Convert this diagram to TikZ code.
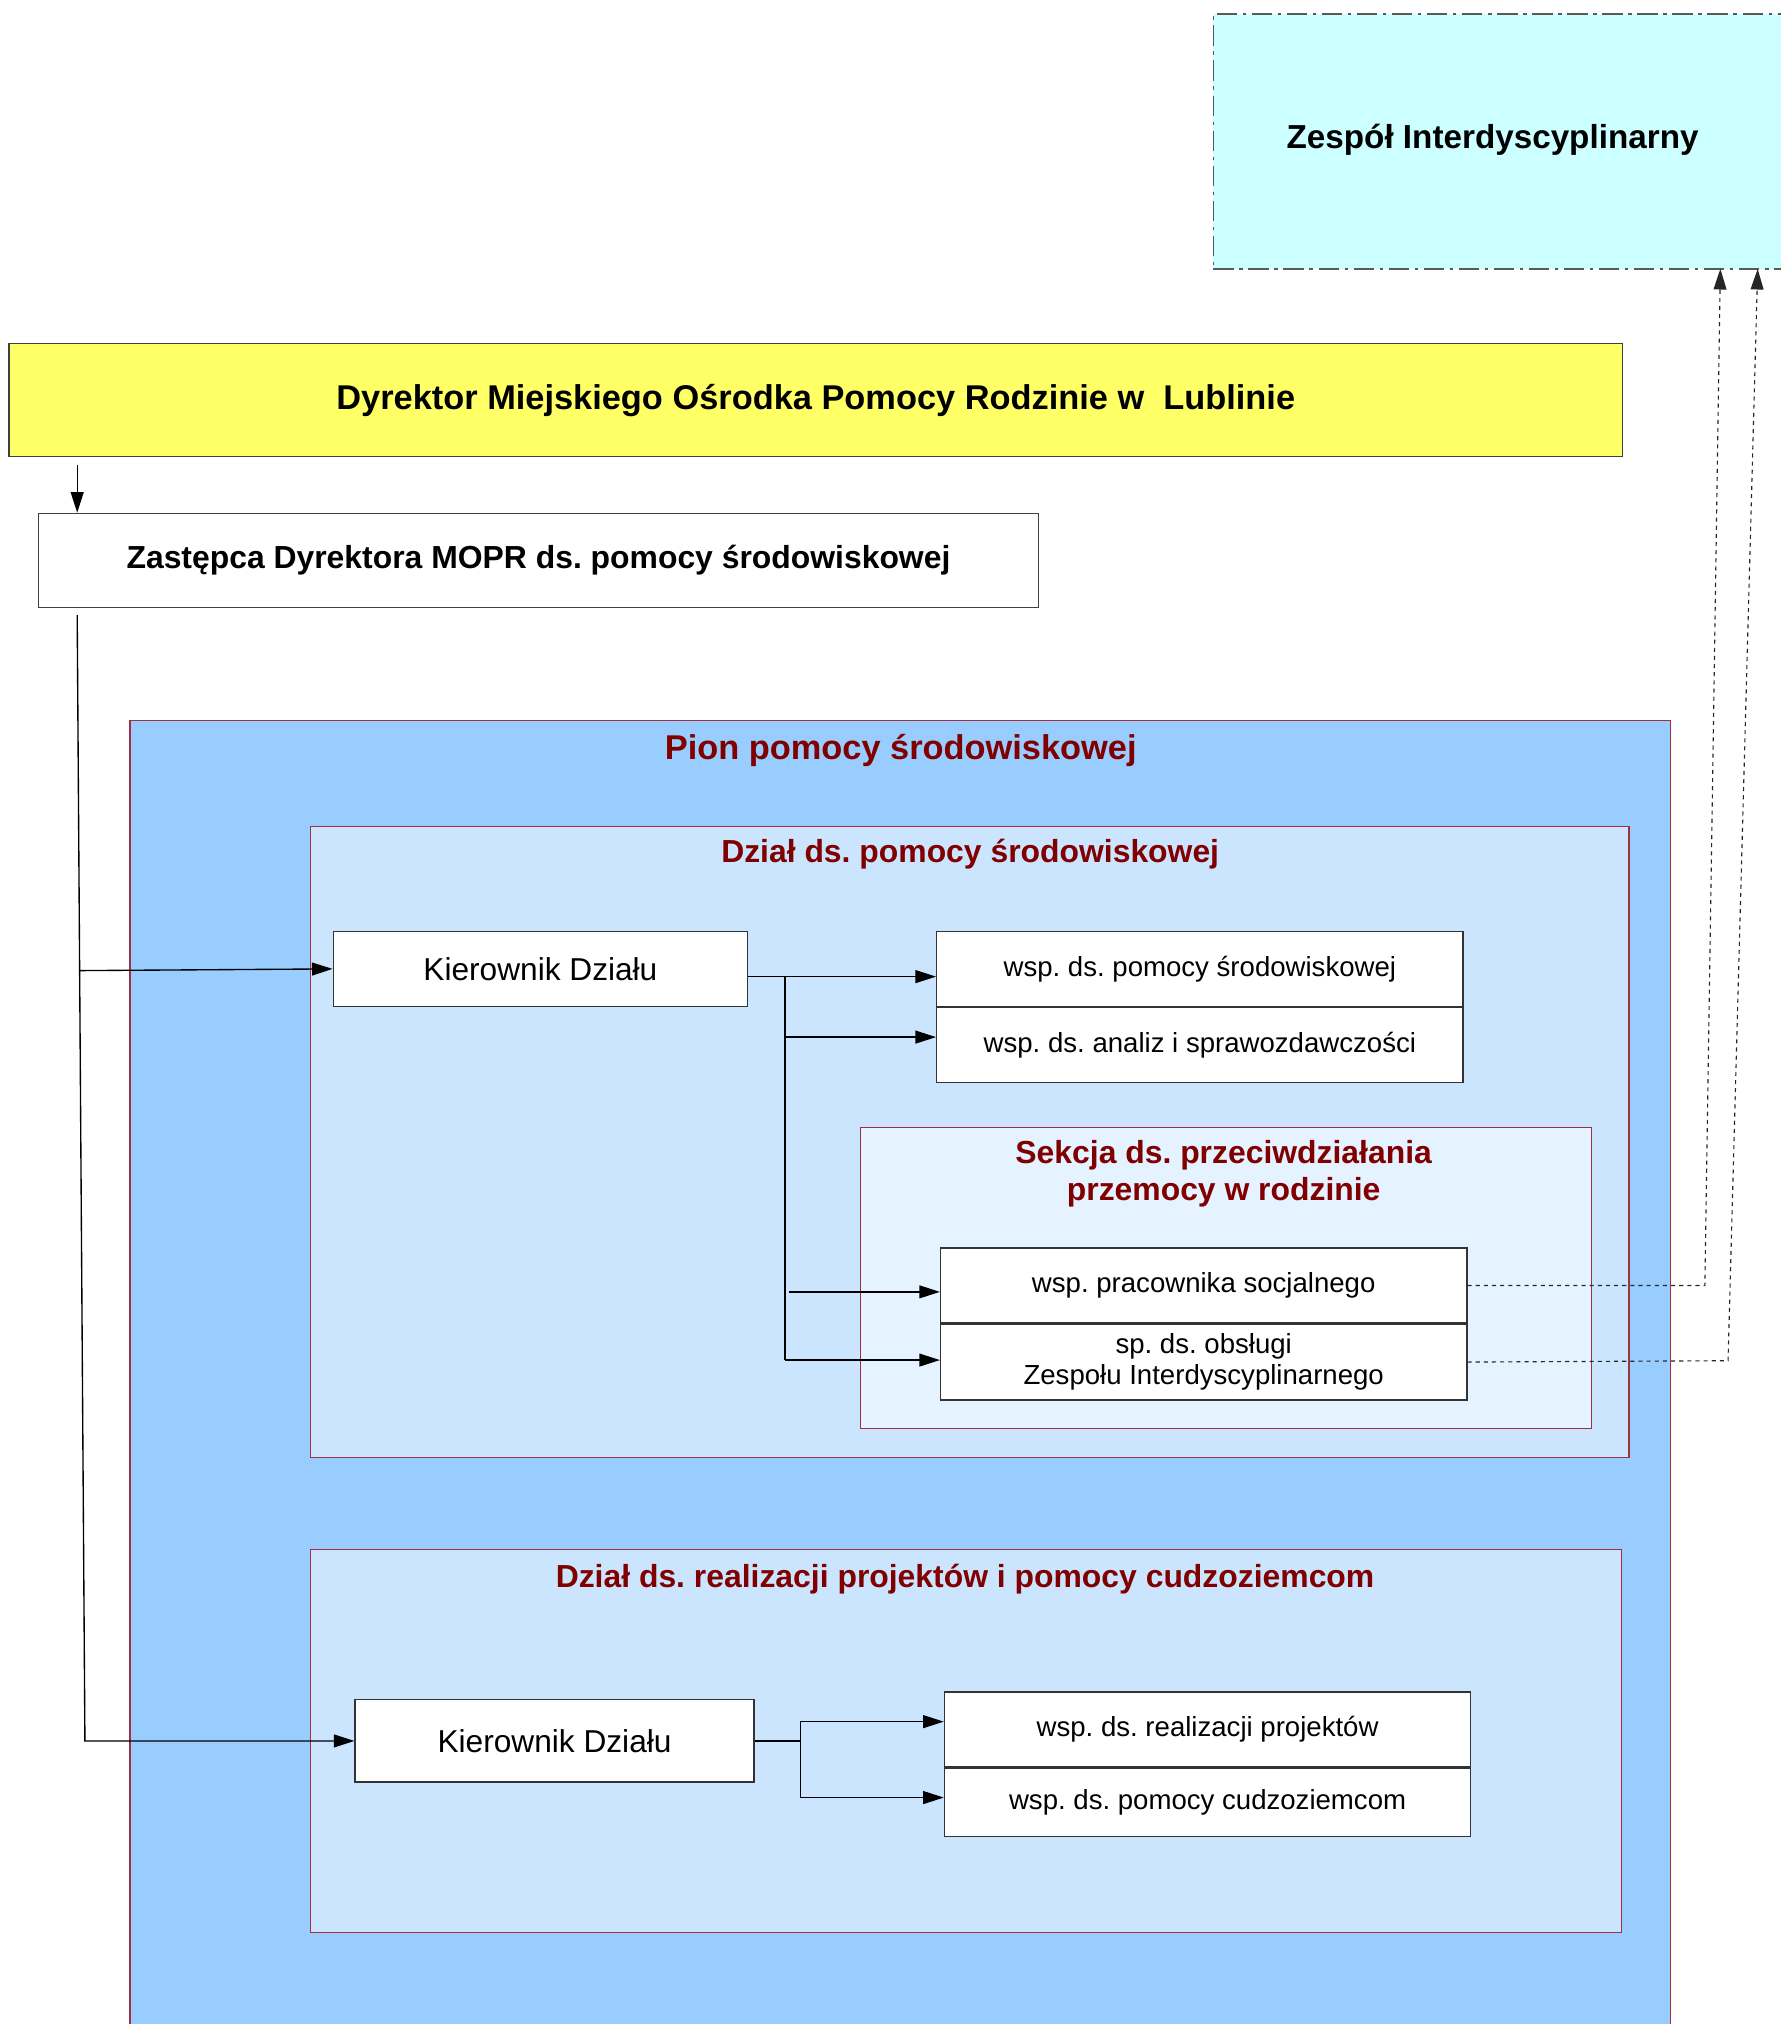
\documentclass[tikz,border=0pt]{standalone}
\usepackage{fontspec}
\setmainfont{Liberation Sans}
\usepackage{tikz}
\usetikzlibrary{arrows.meta, positioning, calc}
\frenchspacing
\definecolor{ziCyan}{HTML}{CCFFFF}
\definecolor{dirYellow}{HTML}{FFFF66}
\definecolor{pionBlue}{HTML}{99CCFF}
\definecolor{dzialBlue}{HTML}{CCE5FF}
\definecolor{sekBlue}{HTML}{E5F2FF}
\definecolor{titleRed}{HTML}{800000}
\definecolor{frameRed}{HTML}{A03040}
\tikzstyle{head} = [rectangle, draw=black!75, line width=0.6pt, font=\fontsize{14.1}{17}\selectfont\bfseries]
\tikzstyle{zibox} = [rectangle, draw=black!65, fill=ziCyan, line width=0.6pt, dash pattern=on 9pt off 2.5pt on 1.5pt off 2.5pt]
\tikzstyle{frame} = [rectangle, draw=frameRed, line width=0.5pt]
\tikzstyle{title} = [align=center, text=titleRed, font=\fontsize{14.1}{16.4}\selectfont\bfseries]
\tikzstyle{kier} = [rectangle, draw=black!80, fill=white, line width=0.6pt, font=\fontsize{14}{17}\selectfont]
\tikzstyle{post} = [rectangle, draw=black!80, fill=white, line width=0.6pt, minimum width=8.18cm, align=center, font=\fontsize{12.2}{13.7}\selectfont]
\tikzstyle{arrow} = [line width=0.6pt, -{Triangle[length=0.32cm, width=0.2cm]}]
\tikzstyle{dotarrow} = [arrow, line width=0.5pt, black!85, dash pattern=on 1.8pt off 1.8pt]

\begin{document}
\begin{tikzpicture}[node distance = 0cm]
\useasboundingbox (0,0) rectangle (27.68,-31.46);

% gora
\node(ZI)[zibox, minimum width=9.1cm, minimum height=3.96cm] at (23.41,-2.2) {};
\node(ZIt)[font=\fontsize{14.7}{17}\selectfont\bfseries] at (23.2,-2.18) {Zespół Interdyscyplinarny};
\node(DYR)[head, fill=dirYellow, minimum width=25.08cm, minimum height=1.76cm, font=\fontsize{15.2}{18}\selectfont\bfseries] at (12.68,-6.22) {Dyrektor Miejskiego Ośrodka Pomocy Rodzinie w\ \ Lublinie};
\node(ZAS)[head, fill=white, minimum width=15.54cm, minimum height=1.46cm] at (8.37,-8.71) {Zastępca Dyrektora MOPR ds. pomocy środowiskowej};

% pion
\node(PION)[frame, fill=pionBlue, minimum width=23.94cm, minimum height=20.6cm] at (13.99,-21.5) {};
\node(PIONt)[title, font=\fontsize{15.2}{18}\selectfont\bfseries] at (14.0,-11.66) {Pion pomocy środowiskowej};

% dzial 1
\node(D1)[frame, fill=dzialBlue, minimum width=20.5cm, minimum height=9.82cm] at (15.07,-17.75) {};
\node(D1t)[title] at (15.08,-13.28) {Dział ds. pomocy środowiskowej};
\node(K1)[kier, minimum width=6.44cm, minimum height=1.16cm] at (8.4,-15.06) {Kierownik Działu};
\node(W1)[post, minimum height=1.16cm] at (18.65,-15.06) {wsp. ds. pomocy środowiskowej};
\node(W2)[post, minimum height=1.16cm, below = of W1] {wsp. ds. analiz i sprawozdawczości};

\node(SEK)[frame, fill=sekBlue, minimum width=11.36cm, minimum height=4.68cm] at (19.06,-19.86) {};
\node(SEKt)[title] at (19.02,-18.25) {Sekcja ds. przeciwdziałania\\ przemocy w rodzinie};
\node(W3)[post, minimum height=1.16cm] at (18.71,-19.98) {wsp. pracownika socjalnego};
\node(W4)[post, minimum height=1.18cm, below = of W3] {sp. ds. obsługi\\ Zespołu Interdyscyplinarnego};

% dzial 2
\node(D2)[frame, fill=dzialBlue, minimum width=20.38cm, minimum height=5.96cm] at (15.01,-27.06) {};
\node(D2t)[title] at (15.0,-24.54) {Dział ds. realizacji projektów i pomocy cudzoziemcom};
\node(K2)[kier, minimum width=6.2cm, minimum height=1.28cm] at (8.62,-27.06) {Kierownik Działu};
\node(W5)[post, minimum height=1.16cm] at (18.77,-26.88) {wsp. ds. realizacji projektów};
\node(W6)[post, minimum height=1.06cm, below = of W5] {wsp. ds. pomocy cudzoziemcom};

% polaczenia
\coordinate(d0) at (1.2,-7.22);
\draw [arrow] (d0) -- (d0 |- ZAS.north);

\coordinate(t0) at (1.2,-9.56);
\coordinate(t1) at (1.32,-27.06);
\draw [arrow] (t0) -- (t1) -- (K2.west);
\draw [arrow] ($(t0)!(K1.west)!(t1)$) -- (K1.west);

\coordinate(s1) at (12.2,-15.18);
\coordinate(s2) at (12.2,-21.14);
\coordinate(s3) at (12.2,-16.12);
\coordinate(s4) at (12.26,-20.08);
\draw [line width=0.6pt] (K1.east |- s1) -- (s1) -- (s2);
\draw [arrow] (s1) -- (s1 -| W1.west);
\draw [arrow] (s3) -- (s3 -| W2.west);
\draw [arrow] (s4) -- (s4 -| W3.west);
\draw [arrow] (s2) -- (s2 -| W4.west);

\coordinate(u1) at (12.44,-26.76);
\coordinate(u2) at (12.44,-27.94);
\draw [line width=0.6pt] (K2.east) -- (K2.east -| u1);
\draw [line width=0.6pt] (u1) -- (u2);
\draw [arrow] (u1) -- (u1 -| W5.west);
\draw [arrow] (u2) -- (u2 -| W6.west);

\coordinate(c1) at (26.5,-19.98);
\coordinate(z1) at (26.74,-4.18);
\coordinate(c2) at (26.86,-21.15);
\coordinate(z2) at (27.32,-4.18);
\draw [dotarrow] (W3.east) -- (c1) -- (z1);
\draw [dotarrow] (W4.east) -- (c2) -- (z2);

\end{tikzpicture}
\end{document}
